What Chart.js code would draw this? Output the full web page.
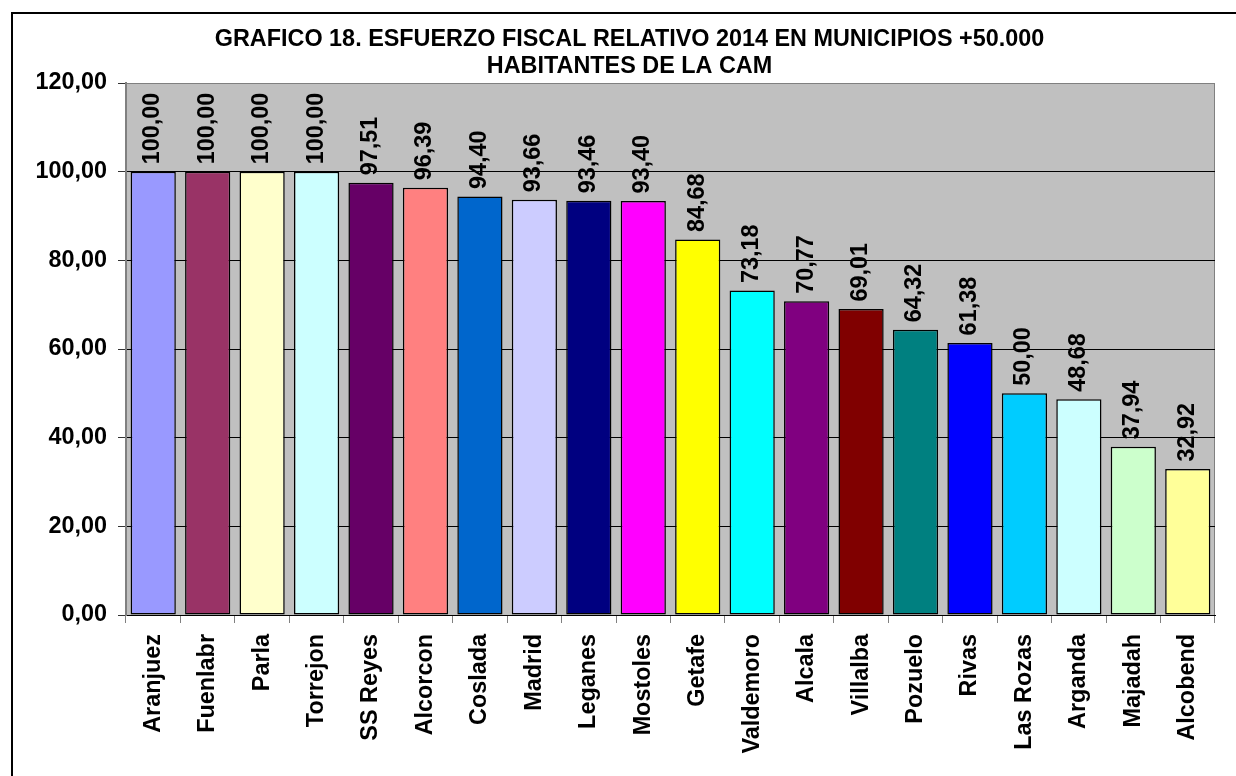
<!DOCTYPE html>
<html>
<head>
<meta charset="utf-8">
<script src="https://cdn.jsdelivr.net/npm/chart.js@4.4.1/dist/chart.umd.min.js"></script>
<style>
  html, body { margin: 0; padding: 0; background: #fff; overflow: hidden; }
  #wrap { position: relative; width: 1236px; height: 776px; }
  #frame { position: absolute; left: 11px; top: 12px; width: 1300px; height: 820px; border: 2px solid #000; pointer-events: none; }
  canvas { position: absolute; left: 0; top: 0; }
</style>
</head>
<body>
<div id="wrap">
  <canvas id="c" width="1236" height="776"></canvas>
  <div id="frame"></div>
</div>
<script>
const titleLines = ["GRAFICO 18. ESFUERZO FISCAL RELATIVO 2014 EN MUNICIPIOS +50.000", "HABITANTES DE LA CAM"];
const categories = ["Aranjuez", "Fuenlabr", "Parla", "Torrejon", "SS Reyes", "Alcorcon", "Coslada", "Madrid", "Leganes", "Mostoles", "Getafe", "Valdemoro", "Alcala", "Villalba", "Pozuelo", "Rivas", "Las Rozas", "Arganda", "Majadah", "Alcobend"];
const values = [100.00, 100.00, 100.00, 100.00, 97.51, 96.39, 94.40, 93.66, 93.46, 93.40, 84.68, 73.18, 70.77, 69.01, 64.32, 61.38, 50.00, 48.68, 37.94, 32.92];
const barColors = ["#9999FF", "#993366", "#FFFFCC", "#CCFFFF", "#660066", "#FF8080", "#0066CC", "#CCCCFF", "#000080", "#FF00FF", "#FFFF00", "#00FFFF", "#800080", "#800000", "#008080", "#0000FF", "#00CCFF", "#CCFFFF", "#CCFFCC", "#FFFF99"];
const yMin = 0, yMax = 120, yStep = 20;

const FONT = '"Liberation Sans", Arial, Helvetica, sans-serif';
const FS = 23.4;
const fmt = v => v.toFixed(2).replace('.', ',');

const plotBg = {
  id: 'plotBg',
  afterLayout(chart) {
    // the original title is centred on the whole chart frame, a little right of the canvas centre
    if (chart.titleBlock) { chart.titleBlock.left += 44; }
  },
  beforeDraw(chart) {
    const a = chart.chartArea, ctx = chart.ctx;
    ctx.save();
    ctx.fillStyle = '#C0C0C0';
    ctx.fillRect(a.left, a.top, a.right - a.left, a.bottom - a.top);
    ctx.strokeStyle = '#808080';
    ctx.lineWidth = 1;
    ctx.strokeRect(Math.round(a.left) + 0.5, Math.round(a.top) + 0.5, Math.round(a.right - a.left) - 1, Math.round(a.bottom - a.top));
    ctx.restore();
  }
};

const valueLabels = {
  id: 'valueLabels',
  afterDatasetsDraw(chart) {
    const ctx = chart.ctx;
    const meta = chart.getDatasetMeta(0);
    ctx.save();
    ctx.font = 'bold ' + FS + 'px ' + FONT;
    ctx.fillStyle = '#000';
    ctx.textAlign = 'left';
    ctx.textBaseline = 'middle';
    meta.data.forEach((bar, i) => {
      ctx.save();
      ctx.translate(bar.x - 0.5, bar.y - 7.5);
      ctx.rotate(-Math.PI / 2);
      ctx.fillText(fmt(values[i]), 0, 0);
      ctx.restore();
    });
    ctx.restore();
  }
};

new Chart(document.getElementById('c'), {
  type: 'bar',
  data: {
    labels: categories,
    datasets: [{
      data: values,
      backgroundColor: barColors,
      borderColor: '#000',
      borderWidth: 1.5,
      borderSkipped: false,
      barPercentage: 0.83,
      categoryPercentage: 1.0
    }]
  },
  options: {
    responsive: false,
    animation: false,
    devicePixelRatio: 1,
    layout: { padding: { left: 0, right: 21, top: 0, bottom: 0 } },
    plugins: {
      legend: { display: false },
      tooltip: { enabled: false },
      title: {
        display: true,
        text: titleLines,
        color: '#000',
        font: { family: FONT, size: FS, weight: 'bold', lineHeight: '27.4px' },
        padding: { top: 25.6, bottom: 2.6 }
      }
    },
    scales: {
      x: {
        offset: true,
        grid: { display: true, drawOnChartArea: false, drawTicks: true, tickLength: 8, color: '#808080', offset: true },
        border: { display: true, color: '#000', width: 1 },
        ticks: {
          color: '#000',
          font: { family: FONT, size: FS, weight: 'bold' },
          minRotation: 90, maxRotation: 90,
          padding: 11,
          autoSkip: false
        },
        afterFit(scale) { scale.height = 161; }
      },
      y: {
        min: yMin, max: yMax,
        grid: {
          color: ctx => (ctx.tick && ctx.tick.value === yMax) ? '#808080' : '#000',
          lineWidth: 1,
          tickLength: 8,
          tickColor: '#333',
          drawTicks: true
        },
        border: { display: true, color: '#808080', width: 2 },
        ticks: {
          stepSize: yStep,
          color: '#000',
          padding: 11,
          font: { family: FONT, size: FS, weight: 'bold' },
          callback: v => fmt(v)
        },
        afterFit(scale) { scale.width = 126; }
      }
    }
  },
  plugins: [plotBg, valueLabels]
});
</script>
</body>
</html>
